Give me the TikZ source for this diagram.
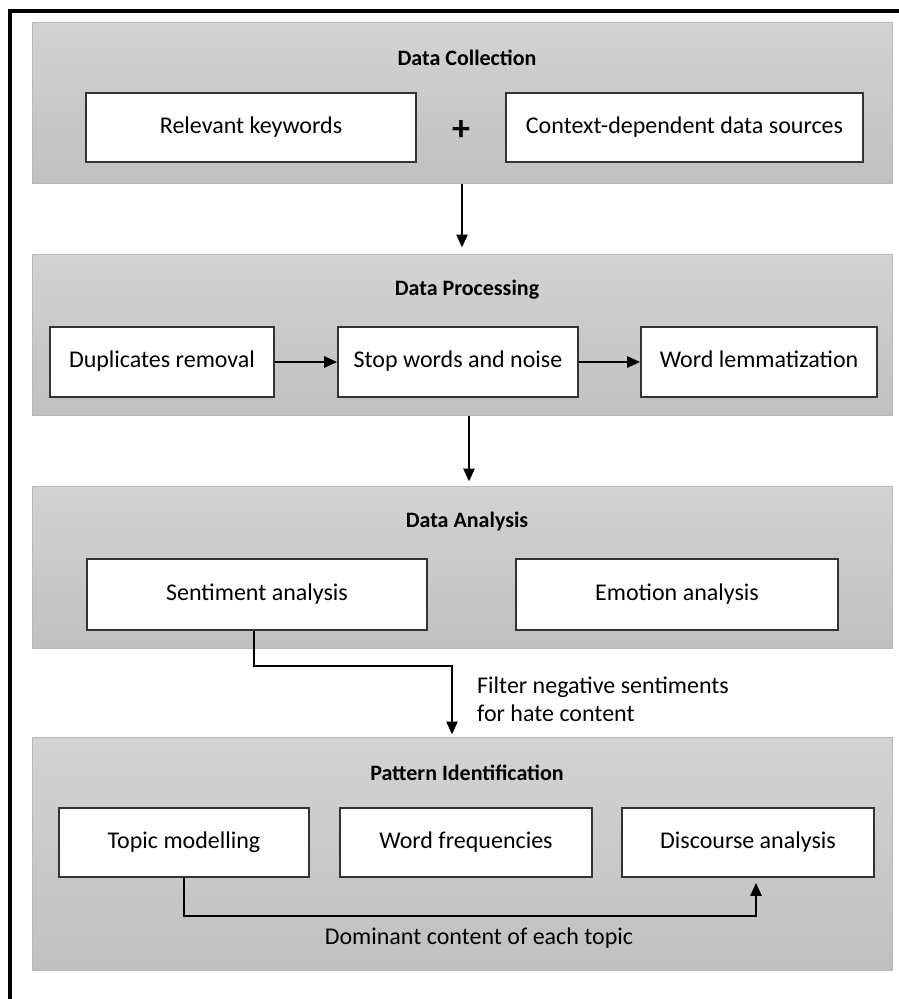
\documentclass[tikz,border=0pt]{standalone}
\usepackage{fontspec}
\setmainfont{Carlito}
\usetikzlibrary{arrows.meta}
\definecolor{panelborder}{HTML}{B8B8B8}
\definecolor{paneltop}{HTML}{D3D3D3}
\definecolor{panelbot}{HTML}{C0C0C0}
\definecolor{boxline}{HTML}{333333}
\tikzset{
  panel/.style={draw=panelborder, line width=1pt, top color=paneltop, bottom color=panelbot, inner sep=0pt, minimum width=860pt},
  stagebox/.style={draw=boxline, line width=1.6pt, fill=white, inner sep=0pt, minimum height=70pt, text height=16pt, text depth=5pt, font=\fontsize{24}{28}\selectfont},
  paneltitle/.style={font=\fontsize{22}{26}\selectfont\bfseries, inner sep=0pt},
  plain/.style={font=\fontsize{24}{28}\selectfont, inner sep=0pt},
  flow/.style={line width=2.6pt, -{Triangle[length=13pt,width=11pt]}},
  link/.style={line width=2.6pt}
}
\begin{document}
\begin{tikzpicture}[x=1pt,y=-1pt]
\useasboundingbox (0,0) rectangle (899,999);
% outer frame (cut at right and bottom)
\draw[line width=4pt, line cap=rect] (10,999) -- (10,11) -- (899,11);
% panels
\node[panel, minimum height=161pt] (p1) at (462,102.5) {};
\node[panel, minimum height=161pt] (p2) at (462,334.5) {};
\node[panel, minimum height=162pt] (p3) at (462,567) {};
\node[panel, minimum height=233pt] (p4) at (462,853.5) {};
% titles
\node[paneltitle] (t1) at (467,58) {Data Collection};
\node[paneltitle] (t2) at (467,290) {Data Processing};
\node[paneltitle] (t3) at (467,522) {Data Analysis};
\node[paneltitle] (t4) at (467,773) {Pattern Identification};
% panel 1
\node[stagebox, minimum width=330pt, minimum height=69pt] (rk) at (251,127.5) {Relevant keywords};
\node[stagebox, minimum width=357pt, minimum height=69pt] (cds) at (684.5,127.5) {Context-dependent data sources};
\node[font=\fontsize{36}{40}\selectfont\bfseries, inner sep=0pt] (plus) at (461,131) {+};
% panel 2
\node[stagebox, minimum width=224pt] (dr) at (162,362) {Duplicates removal};
\node[stagebox, minimum width=240pt] (sw) at (458,362) {Stop words and noise};
\node[stagebox, minimum width=236pt] (wl) at (759,362) {Word lemmatization};
% panel 3
\node[stagebox, minimum width=340pt, minimum height=71pt] (sa) at (257,594.5) {Sentiment analysis};
\node[stagebox, minimum width=322pt, minimum height=71pt] (ea) at (677,594.5) {Emotion analysis};
% panel 4
\node[stagebox, minimum width=250pt, minimum height=69pt] (tm) at (184,842.5) {Topic modelling};
\node[stagebox, minimum width=252pt, minimum height=69pt] (wf) at (466,842.5) {Word frequencies};
\node[stagebox, minimum width=252pt, minimum height=69pt] (da) at (748,842.5) {Discourse analysis};
% labels
\node[plain, anchor=west, align=left] (flt) at (477,699) {Filter negative sentiments\\for hate content};
\node[plain] (dom) at (479,938) {Dominant content of each topic};
% coordinates for connectors
\coordinate (c1) at (254,666);
\coordinate (c2) at (452,666);
\coordinate (d1) at (184,916);
\coordinate (d2) at (756,916);
% connectors
\draw[flow, shorten >=6pt] (p1.south -| 462,0) -- (p2.north -| 462,0);
\draw[flow, shorten >=4pt] (p2.south -| 469,0) -- (p3.north -| 469,0);
\draw[flow] (dr.east) -- (sw.west);
\draw[flow] (sw.east) -- (wl.west);
\draw[flow, shorten >=2pt] (sa.south -| c1) -- (c1) -- (c2) -- (p4.north -| c2);
\draw[flow, shorten >=5pt] (tm.south -| d1) -- (d1) -- (d2) -- (da.south -| d2);
\end{tikzpicture}
\end{document}
